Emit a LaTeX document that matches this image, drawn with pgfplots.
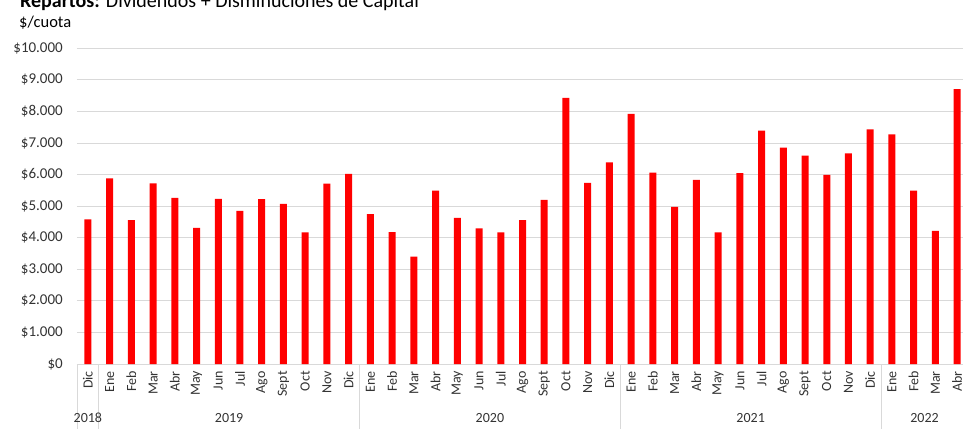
\documentclass[border=0pt]{standalone}
\usepackage{pgfplots}
\pgfplotsset{compat=1.18}
\usepackage{pgfplotstable}
\usepackage{fontspec}
\setmainfont{Carlito}
\definecolor{gridc}{HTML}{D9D9D9}
\definecolor{txt}{HTML}{333333}
\pgfplotstableread{
x v
0 4580
1 5880
2 4560
3 5720
4 5260
5 4310
6 5230
7 4850
8 5220
9 5070
10 4170
11 5710
12 6020
13 4750
14 4180
15 3400
16 5490
17 4630
18 4300
19 4170
20 4560
21 5200
22 8430
23 5740
24 6390
25 7920
26 6060
27 4980
28 5830
29 4170
30 6050
31 7390
32 6850
33 6600
34 5990
35 6670
36 7430
37 7270
38 5490
39 4220
40 8710
}\datatable
\begin{document}
\begin{tikzpicture}
\begin{axis}[
  at={(77pt,65pt)}, anchor=south west,
  scale only axis, width=891pt, height=315.7pt,
  xmin=-0.5, xmax=40.5, ymin=0, ymax=10000,
  ybar, bar width=7pt,
  axis x line*=bottom, axis y line*=left,
  y axis line style={draw=none},
  x axis line style={draw=gridc, line width=0.8pt},
  ymajorgrids, grid style={draw=gridc, line width=0.8pt},
  major tick length=0pt,
  scaled y ticks=false,
  ytick={0,1000,2000,3000,4000,5000,6000,7000,8000,9000,10000},
  yticklabels={\$0,\$1.000,\$2.000,\$3.000,\$4.000,\$5.000,\$6.000,\$7.000,\$8.000,\$9.000,\$10.000},
  yticklabel style={anchor=east, inner sep=0pt, xshift=-14pt, font=\fontsize{15}{17}\selectfont, text=txt},
  xtick={0,...,40},
  xticklabels={Dic,Ene,Feb,Mar,Abr,May,Jun,Jul,Ago,Sept,Oct,Nov,Dic,Ene,Feb,Mar,Abr,May,Jun,Jul,Ago,Sept,Oct,Nov,Dic,Ene,Feb,Mar,Abr,May,Jun,Jul,Ago,Sept,Oct,Nov,Dic,Ene,Feb,Mar,Abr},
  xticklabel style={rotate=90, anchor=east, inner sep=0pt, font=\fontsize{14}{16}\selectfont, text=txt},
  xticklabel shift=7pt,
  clip=false,
]
\addplot[fill=red, draw=none] table[x=x, y=v] {\datatable};
\draw[gridc, line width=0.8pt] (axis cs:-0.5,0) -- ([yshift=-65pt]axis cs:-0.5,0);
\draw[gridc, line width=0.8pt] (axis cs:0.5,0) -- ([yshift=-65pt]axis cs:0.5,0);
\draw[gridc, line width=0.8pt] (axis cs:12.5,0) -- ([yshift=-65pt]axis cs:12.5,0);
\draw[gridc, line width=0.8pt] (axis cs:24.5,0) -- ([yshift=-65pt]axis cs:24.5,0);
\draw[gridc, line width=0.8pt] (axis cs:36.5,0) -- ([yshift=-65pt]axis cs:36.5,0);
\node[font=\fontsize{14}{16}\selectfont, text=txt] at ([yshift=-54pt]axis cs:0,0) {2018};
\node[font=\fontsize{14}{16}\selectfont, text=txt] at ([yshift=-54pt]axis cs:6.5,0) {2019};
\node[font=\fontsize{14}{16}\selectfont, text=txt] at ([yshift=-54pt]axis cs:18.5,0) {2020};
\node[font=\fontsize{14}{16}\selectfont, text=txt] at ([yshift=-54pt]axis cs:30.5,0) {2021};
\node[font=\fontsize{14}{16}\selectfont, text=txt] at ([yshift=-54pt]axis cs:38.5,0) {2022};
\end{axis}
\node[anchor=base west, inner sep=0pt, font=\fontsize{20}{22}\selectfont] at (20pt,421.5pt) {\textbf{Repartos:} Dividendos + Disminuciones de Capital};
\node[anchor=base west, inner sep=0pt, font=\fontsize{16.5}{18}\selectfont] at (19pt,401pt) {\$/cuota};
\pgfresetboundingbox
\path[use as bounding box] (0pt,0pt) rectangle (963pt,429pt);
\end{tikzpicture}
\end{document}
